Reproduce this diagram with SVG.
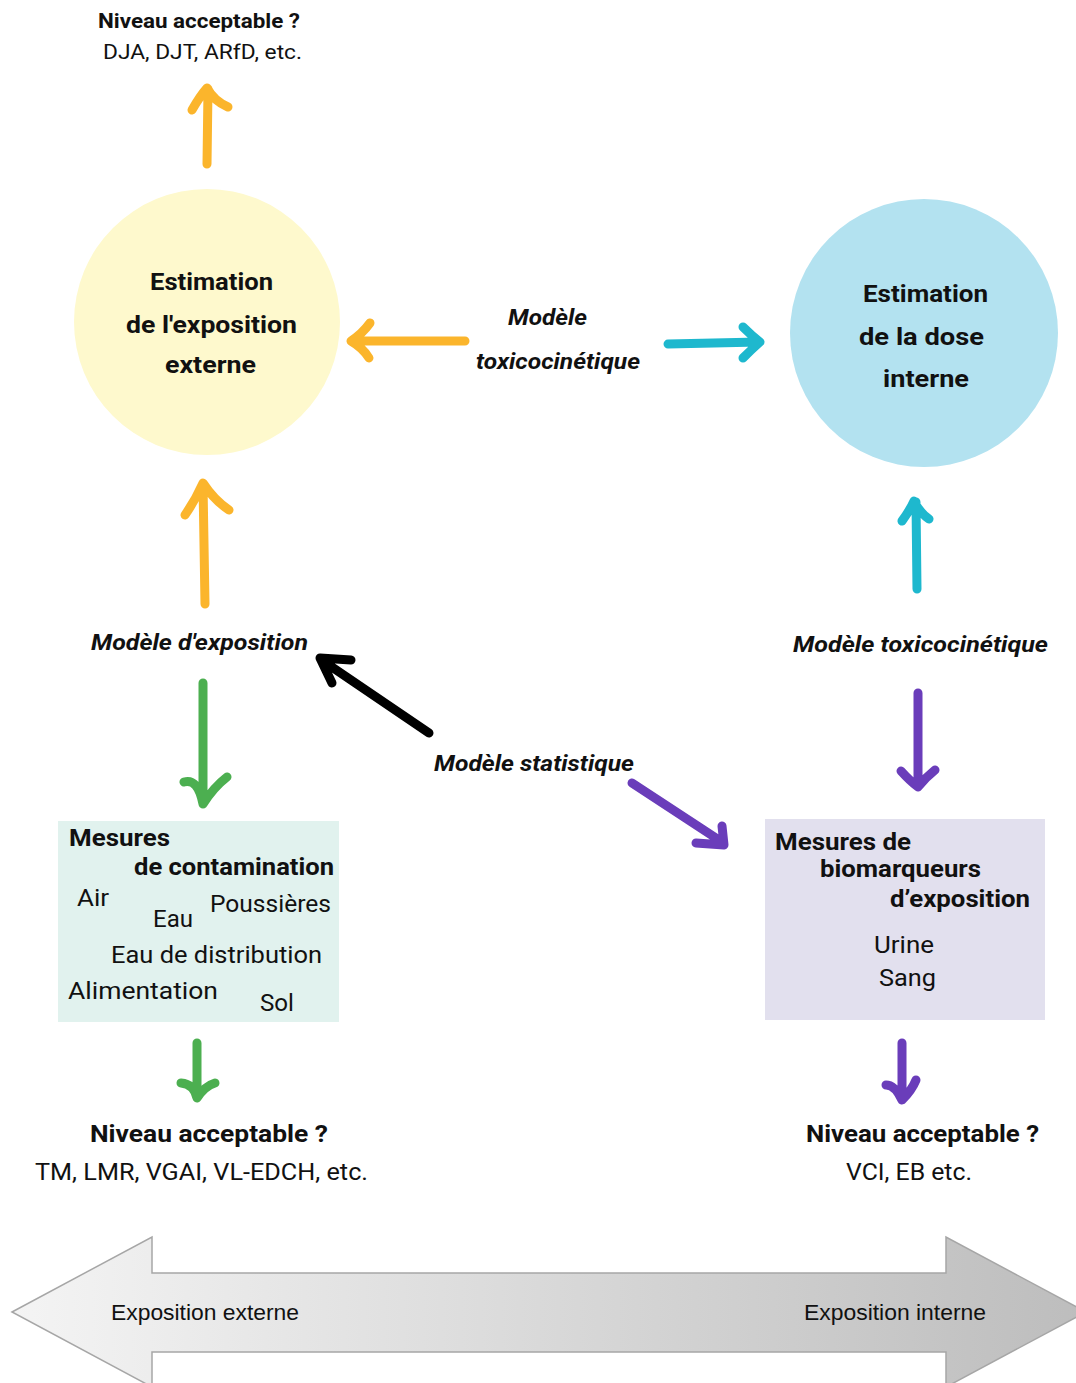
<svg xmlns="http://www.w3.org/2000/svg" width="1076" height="1383" viewBox="0 0 1076 1383">
<defs>
<linearGradient id="g" x1="0" y1="0" x2="1" y2="0">
<stop offset="0" stop-color="#F4F4F4"/>
<stop offset="1" stop-color="#BDBDBD"/>
</linearGradient>
</defs>
<style>
text{font-family:Roboto,"Liberation Sans",sans-serif;fill:#111}
.b{font-weight:bold}
.bi{font-weight:bold;font-style:italic}
.a{fill:none;stroke-width:9;stroke-linecap:round;stroke-linejoin:round}
.or{stroke:#FBB52C}
.cy{stroke:#1EB8CE}
.gr{stroke:#4CAF50}
.pu{stroke:#6A3DBA}
.bk{stroke:#000}
.lab{font-family:"Liberation Sans",Arial,sans-serif;font-size:22px}
</style>
<rect width="1076" height="1383" fill="#fff"/>

<g id="top-level">
<text class="b" x="98" y="28" font-size="21" textLength="202" lengthAdjust="spacingAndGlyphs">Niveau acceptable ?</text>
<text x="103" y="59" font-size="21" textLength="199" lengthAdjust="spacingAndGlyphs">DJA, DJT, ARfD, etc.</text>
</g>

<g id="exposition-externe">
<circle cx="207" cy="322" r="133" fill="#FEF9CD"/>
<text class="b" x="150" y="290" font-size="24" textLength="123" lengthAdjust="spacingAndGlyphs">Estimation</text>
<text class="b" x="126" y="333" font-size="24" textLength="171" lengthAdjust="spacingAndGlyphs">de l'exposition</text>
<text class="b" x="165" y="373" font-size="24" textLength="91" lengthAdjust="spacingAndGlyphs">externe</text>
</g>

<g id="dose-interne">
<circle cx="924" cy="333" r="134" fill="#B3E2F0"/>
<text class="b" x="863" y="302" font-size="24" textLength="125" lengthAdjust="spacingAndGlyphs">Estimation</text>
<text class="b" x="859" y="345" font-size="24" textLength="125" lengthAdjust="spacingAndGlyphs">de la dose</text>
<text class="b" x="883" y="387" font-size="24" textLength="86" lengthAdjust="spacingAndGlyphs">interne</text>
</g>

<g id="label-tk-top">
<text class="bi" x="508" y="325" font-size="22" textLength="79" lengthAdjust="spacingAndGlyphs">Modèle</text>
<text class="bi" x="476" y="369" font-size="22" textLength="164" lengthAdjust="spacingAndGlyphs">toxicocinétique</text>
</g>
<g id="label-exposition">
<text class="bi" x="91" y="650" font-size="22" textLength="217" lengthAdjust="spacingAndGlyphs">Modèle d'exposition</text>
</g>
<g id="label-tk-right">
<text class="bi" x="793" y="652" font-size="22" textLength="255" lengthAdjust="spacingAndGlyphs">Modèle toxicocinétique</text>
</g>
<g id="label-stat">
<text class="bi" x="434" y="771" font-size="22" textLength="200" lengthAdjust="spacingAndGlyphs">Modèle statistique</text>
</g>

<g id="mesures-contamination">
<rect x="58" y="821" width="281" height="201" fill="#E1F2EE"/>
<text class="b" x="69" y="846" font-size="23" textLength="101" lengthAdjust="spacingAndGlyphs">Mesures</text>
<text class="b" x="134" y="875" font-size="23" textLength="200" lengthAdjust="spacingAndGlyphs">de contamination</text>
<text x="77" y="906" font-size="23" textLength="32" lengthAdjust="spacingAndGlyphs">Air</text>
<text x="153" y="927" font-size="23" textLength="40" lengthAdjust="spacingAndGlyphs">Eau</text>
<text x="210" y="912" font-size="23" textLength="121" lengthAdjust="spacingAndGlyphs">Poussières</text>
<text x="111" y="963" font-size="23" textLength="211" lengthAdjust="spacingAndGlyphs">Eau de distribution</text>
<text x="68" y="999" font-size="23" textLength="150" lengthAdjust="spacingAndGlyphs">Alimentation</text>
<text x="260" y="1011" font-size="23" textLength="34" lengthAdjust="spacingAndGlyphs">Sol</text>
</g>

<g id="mesures-biomarqueurs">
<rect x="765" y="819" width="280" height="201" fill="#E2E0EE"/>
<text class="b" x="775" y="850" font-size="23" textLength="136" lengthAdjust="spacingAndGlyphs">Mesures de</text>
<text class="b" x="820" y="877" font-size="23" textLength="161" lengthAdjust="spacingAndGlyphs">biomarqueurs</text>
<text class="b" x="890" y="907" font-size="23" textLength="140" lengthAdjust="spacingAndGlyphs">d’exposition</text>
<text x="874" y="953" font-size="23" textLength="60" lengthAdjust="spacingAndGlyphs">Urine</text>
<text x="879" y="986" font-size="23" textLength="57" lengthAdjust="spacingAndGlyphs">Sang</text>
</g>

<g id="bottom-left-level">
<text class="b" x="90" y="1142" font-size="23" textLength="238" lengthAdjust="spacingAndGlyphs">Niveau acceptable ?</text>
<text x="35" y="1180" font-size="23" textLength="333" lengthAdjust="spacingAndGlyphs">TM, LMR, VGAI, VL-EDCH, etc.</text>
</g>
<g id="bottom-right-level">
<text class="b" x="806" y="1142" font-size="23" textLength="233" lengthAdjust="spacingAndGlyphs">Niveau acceptable ?</text>
<text x="846" y="1180" font-size="23" textLength="126" lengthAdjust="spacingAndGlyphs">VCI, EB etc.</text>
</g>

<g id="axis">
<polygon points="12,1312 152,1237 152,1273 946,1273 946,1237 1086,1312 946,1387 946,1352 152,1352 152,1387" fill="url(#g)" stroke="#A6A6A6" stroke-width="1.5"/>
<text class="lab" x="111" y="1320" textLength="188" lengthAdjust="spacingAndGlyphs">Exposition externe</text>
<text class="lab" x="804" y="1320" textLength="182" lengthAdjust="spacingAndGlyphs">Exposition interne</text>
</g>

<g id="connectors">
<path class="a or" d="M207,164 L208,89 M192,110 Q200,96 207,88 Q214,101 228,107"/>
<path class="a or" d="M465,341 L353,341 M370,323 Q362,334 351,341 Q363,348 369,358"/>
<path class="a cy" d="M668,344 L759,342 M743,327 Q752,336 760,342 Q751,350 743,358"/>
<path class="a or" d="M205,604 L203,484 M185,515 Q196,499 203,483 Q214,500 229,510"/>
<path class="a cy" d="M917,589 L916,502 M902,521 Q910,510 914,501 Q920,513 929,519"/>
<path class="a gr" d="M203,683 L203,804 M184,782 Q198,778 203,804 Q214,787 227,777"/>
<path class="a pu" d="M918,693 L918,785 M901,771 Q910,781 918,787 Q925,778 935,770"/>
<path class="a bk" d="M429,733 L323,661 M320,658 L351,660 M320,658 L332,683"/>
<path class="a pu" d="M632,783 L722,842 M722,826 L724,845 L696,843"/>
<path class="a gr" d="M197,1043 L197,1097 M181,1083 Q194,1084 197,1098 Q205,1086 215,1083"/>
<path class="a pu" d="M902,1043 L902,1098 M886,1085 Q895,1085 902,1100 Q912,1090 916,1080"/>
</g>
</svg>
